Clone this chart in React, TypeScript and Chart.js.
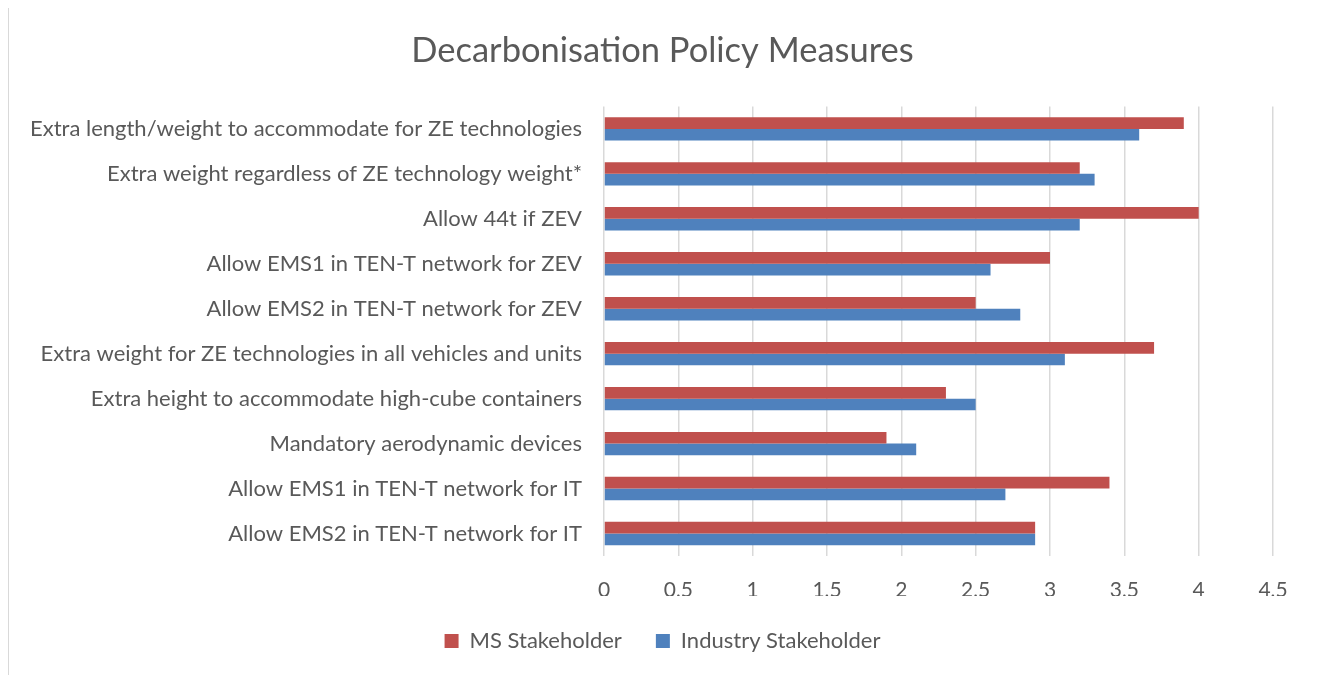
import React, { useEffect, useRef } from "react";
import { Chart, registerables } from "chart.js";

Chart.register(...registerables);

const categories = [
  "Extra length/weight to accommodate for ZE technologies",
  "Extra weight regardless of ZE technology weight*",
  "Allow 44t if ZEV",
  "Allow EMS1 in TEN-T network for ZEV",
  "Allow EMS2 in TEN-T network for ZEV",
  "Extra weight for ZE technologies in all vehicles and units",
  "Extra height to accommodate high-cube containers",
  "Mandatory aerodynamic devices",
  "Allow EMS1 in TEN-T network for IT",
  "Allow EMS2 in TEN-T network for IT",
];

const msStakeholder = [3.9, 3.2, 4.0, 3.0, 2.5, 3.7, 2.3, 1.9, 3.4, 2.9];
const industryStakeholder = [3.6, 3.3, 3.2, 2.6, 2.8, 3.1, 2.5, 2.1, 2.7, 2.9];

const xTickLabels = ["0", "0,5", "1", "1,5", "2", "2,5", "3", "3,5", "4", "4,5"];

const FONT = "Lato, 'Open Sans', sans-serif";
const TEXT = "#595959";

export default function App() {
  const ref = useRef<HTMLCanvasElement | null>(null);

  useEffect(() => {
    if (!ref.current) return;
    const formatTick = (v: any, i: number) =>
      xTickLabels[i] !== undefined ? xTickLabels[i] : String(v).replace(".", ",");
    const chart = new Chart(ref.current, {
      type: "bar",
      data: {
        labels: categories,
        datasets: [
          {
            label: "MS Stakeholder",
            data: msStakeholder,
            backgroundColor: "#C0504D",
            categoryPercentage: 0.52,
            barPercentage: 1,
            xAxisID: "x",
            yAxisID: "y",
          },
          {
            label: "Industry Stakeholder",
            data: industryStakeholder,
            backgroundColor: "#4F81BD",
            categoryPercentage: 0.52,
            barPercentage: 1,
            xAxisID: "x",
            yAxisID: "y",
          },
        ],
      },
      options: {
        indexAxis: "y",
        locale: "de-DE",
        animation: false,
        responsive: false,
        maintainAspectRatio: false,
        layout: { padding: { top: 0, right: 0, bottom: 13, left: 0 } },
        plugins: {
          title: {
            display: true,
            text: "Decarbonisation Policy Measures",
            color: TEXT,
            font: { family: FONT, size: 34.5, weight: "normal" },
            padding: { top: 22, bottom: 35 },
          },
          legend: {
            position: "bottom",
            labels: {
              color: TEXT,
              font: { family: FONT, size: 22 },
              boxWidth: 14,
              boxHeight: 14,
              padding: 34,
            },
          },
          tooltip: { enabled: false },
        },
        scales: {
          x: {
            type: "linear",
            position: "bottom",
            min: 0,
            max: 4.5,
            ticks: {
              stepSize: 0.5,
              color: TEXT,
              font: { family: FONT, size: 21 },
              padding: 22,
              callback: formatTick,
            },
            grid: { color: "#D9D9D9", lineWidth: 1.5, drawTicks: false },
            border: { display: false },
            afterFit: (s: any) => {
              s.height = 40;
            },
          },
          y: {
            type: "category",
            position: "left",
            ticks: {
              color: TEXT,
              font: { family: FONT, size: 22 },
              padding: 22,
            },
            grid: { display: false, drawTicks: false },
            border: { display: false },
            afterFit: (s: any) => {
              s.width = 595;
            },
          },
          yRight: {
            type: "category",
            position: "right",
            display: true,
            ticks: { display: false },
            grid: { display: false, drawTicks: false },
            border: { display: false },
            afterFit: (s: any) => {
              s.width = 43;
            },
          },
        },
      },
    });
    return () => chart.destroy();
  }, []);

  return (
    <div
      style={{
        border: "1px solid #D9D9D9",
        marginTop: -1,
        width: 1307,
        height: 680,
        background: "#fff",
      }}
    >
      <canvas ref={ref} width={1307} height={667} style={{ display: "block" }} />
    </div>
  );
}
